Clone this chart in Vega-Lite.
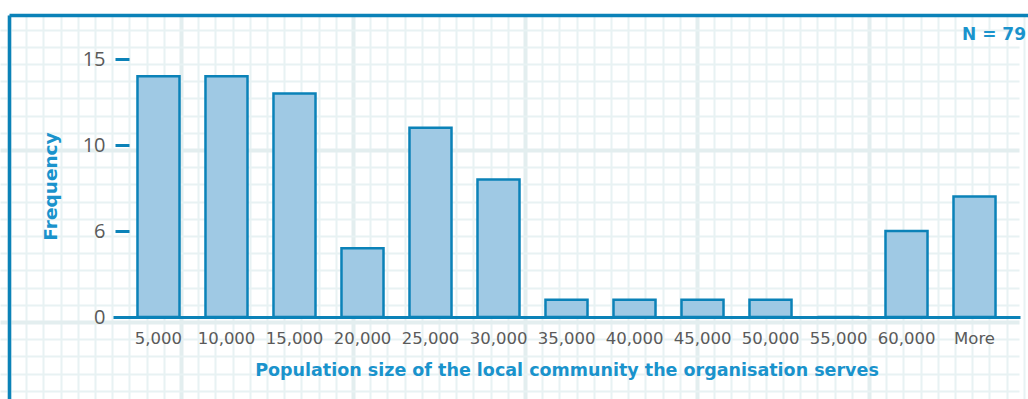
{
  "$schema": "https://vega.github.io/schema/vega-lite/v6.json",
  "width": 1028,
  "height": 399,
  "autosize": {"type": "none"},
  "padding": 0,
  "background": "white",
  "config": {"view": {"stroke": null}, "font": "DejaVu Sans"},
  "title": {
    "text": "N = 79",
    "orient": "top",
    "anchor": "end",
    "frame": "group",
    "align": "left",
    "baseline": "top",
    "dx": -66,
    "dy": 44,
    "offset": 0,
    "font": "DejaVu Sans",
    "fontSize": 17,
    "fontWeight": "bold",
    "color": "#1a93cc"
  },
  "layer": [
    {
      "data": {"values": [{"gx": 0, "gy": 0}]},
      "mark": {"type": "point", "opacity": 0},
      "encoding": {
        "x": {
          "field": "gx",
          "type": "quantitative",
          "scale": {"domain": [0, 59.244], "range": [9, 1028], "nice": false, "zero": false},
          "axis": {
            "orient": "top",
            "offset": -15,
            "title": null,
            "labels": false,
            "ticks": false,
            "domain": true,
            "domainColor": "#0b82b8",
            "domainWidth": 3.5,
            "grid": true,
            "values": [0,1,2,3,4,5,6,7,8,9,10,11,12,13,14,15,16,17,18,19,20,21,22,23,24,25,26,27,28,29,30,31,32,33,34,35,36,37,38,39,40,41,42,43,44,45,46,47,48,49,50,51,52,53,54,55,56,57,58,59],
            "gridColor": {"condition": {"test": "datum.value % 10 === 0", "value": "#e3eeef"}, "value": "#e8f2f3"},
            "gridWidth": {"condition": {"test": "datum.value % 10 === 0", "value": 4}, "value": 2},
            "zindex": 0
          }
        },
        "y": {
          "field": "gy",
          "type": "quantitative",
          "scale": {"domain": [-7.849, 14.477], "range": [15, 399], "nice": false, "zero": false},
          "axis": {
            "orient": "right",
            "offset": -1019,
            "title": null,
            "labels": false,
            "ticks": false,
            "domain": true,
            "domainColor": "#0b82b8",
            "domainWidth": 3.5,
            "grid": true,
            "values": [-7,-6,-5,-4,-3,-2,-1,0,1,2,3,4,5,6,7,8,9,10,11,12,13,14],
            "gridColor": {"condition": {"test": "datum.value % 10 === 0", "value": "#e3eeef"}, "value": "#e8f2f3"},
            "gridWidth": {"condition": {"test": "datum.value % 10 === 0", "value": 4}, "value": 2},
            "zindex": 0
          }
        }
      }
    },
    {
      "data": {
        "values": [
          {"size": "5,000", "frequency": 14},
          {"size": "10,000", "frequency": 14},
          {"size": "15,000", "frequency": 13},
          {"size": "20,000", "frequency": 4},
          {"size": "25,000", "frequency": 11},
          {"size": "30,000", "frequency": 8},
          {"size": "35,000", "frequency": 1},
          {"size": "40,000", "frequency": 1},
          {"size": "45,000", "frequency": 1},
          {"size": "50,000", "frequency": 1},
          {"size": "55,000", "frequency": 0},
          {"size": "60,000", "frequency": 5},
          {"size": "More", "frequency": 7}
        ]
      },
      "mark": {"type": "bar", "fill": "#9fc9e4", "stroke": "#0b82b8", "strokeWidth": 2.5},
      "encoding": {
        "x": {
          "field": "size",
          "type": "nominal",
          "sort": null,
          "scale": {"range": [113, 1020], "paddingInner": 0.382, "paddingOuter": 0.36, "align": 0.5},
          "axis": {
            "orient": "bottom",
            "offset": -82,
            "title": "Population size of the local community the organisation serves",
            "domain": true,
            "domainColor": "#0b82b8",
            "domainWidth": 3,
            "ticks": false,
            "tickSize": 0,
            "grid": false,
            "labelAngle": 0,
            "labelOverlap": false,
            "labelPadding": 13,
            "labelFont": "DejaVu Sans",
            "labelFontSize": 16.5,
            "labelColor": "#5a5a5a",
            "titleFont": "DejaVu Sans",
            "titleFontSize": 17.5,
            "titleFontWeight": "bold",
            "titleColor": "#1a93cc",
            "titlePadding": 15,
            "zindex": 1
          }
        },
        "y": {
          "field": "frequency",
          "type": "quantitative",
          "scale": {"domain": [0, 15], "range": [317, 59], "nice": false, "zero": true},
          "axis": {
            "orient": "left",
            "offset": -129,
            "values": [0, 5, 10, 15],
            "labelExpr": "datum.value === 5 ? '6' : datum.label",
            "domain": false,
            "ticks": true,
            "tickSize": 14,
            "tickWidth": 3,
            "tickColor": "#0b82b8",
            "grid": false,
            "labelPadding": 10,
            "labelFont": "Open Sans",
            "labelFontSize": 20,
            "labelColor": "#5a5a5a",
            "title": "Frequency",
            "titleFont": "DejaVu Sans",
            "titleFontSize": 18.5,
            "titleFontWeight": "bold",
            "titleColor": "#1a93cc",
            "titleAngle": 270,
            "titleX": -79,
            "titleY": 186,
            "titleAlign": "center",
            "titleBaseline": "middle",
            "zindex": 1
          }
        }
      }
    }
  ],
  "resolve": {
    "scale": {"x": "independent", "y": "independent"},
    "axis": {"x": "independent", "y": "independent"}
  }
}
